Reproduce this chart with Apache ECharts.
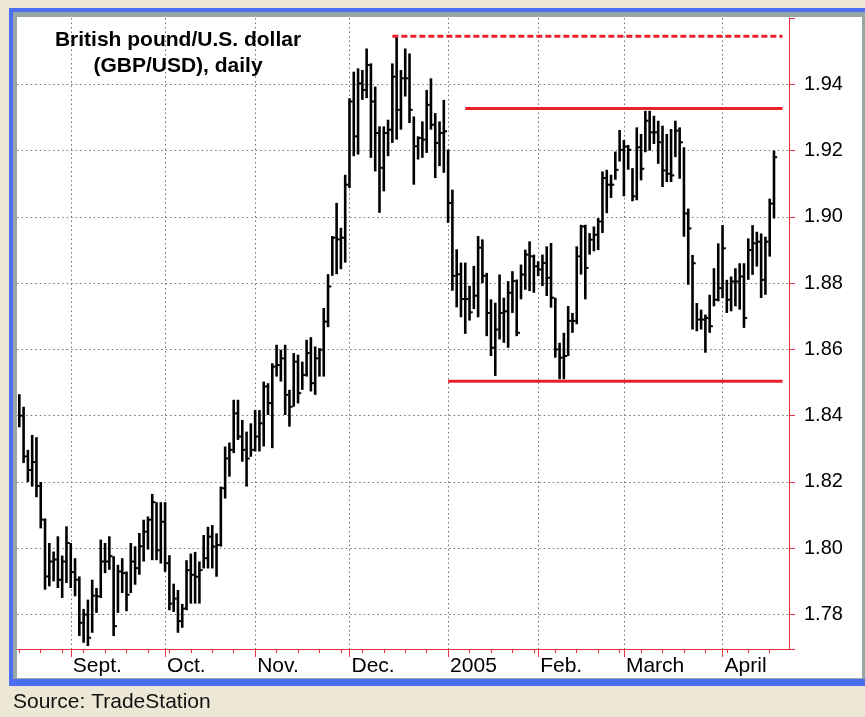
<!DOCTYPE html>
<html>
<head>
<meta charset="UTF-8">
<title>British pound/U.S. dollar (GBP/USD), daily</title>
<style>
html,body{margin:0;padding:0;width:100%;height:100%;background:#ece8d5;}
#main{width:865px;height:717px;}
</style>
</head>
<body>
<div id="main"></div>
<script src="https://cdn.jsdelivr.net/npm/echarts@6/dist/echarts.min.js"></script>
<script>
// trading days shown on the axis (weekdays from Aug 16, 2004)
var firstDay = [2004, 7, 16];
var dayCount = 180;

var highs = [
  1.8465, 1.8427, 1.8297, 1.8342, 1.8335, 1.8200, 1.8090, 1.8016, 1.7990, 1.8036,
  1.7978, 1.8066, 1.8016, 1.7970, 1.7915, 1.7817, 1.7845, 1.7905, 1.7880, 1.8026,
  1.8016, 1.8036, 1.7976, 1.7950, 1.7970, 1.7930, 1.8016, 1.8006, 1.8046, 1.8086,
  1.8096, 1.8164, 1.8139, 1.8139, 1.8139, 1.7979, 1.7893, 1.7874, 1.7832, 1.7964,
  1.7984, 1.7989, 1.7960, 1.8040, 1.8065, 1.8070, 1.8045, 1.8186, 1.8307, 1.8319,
  1.8448, 1.8448, 1.8387, 1.8352, 1.8377, 1.8417, 1.8417, 1.8503, 1.8498, 1.8558,
  1.8614, 1.8599, 1.8614, 1.8478, 1.8589, 1.8584, 1.8563, 1.8629, 1.8637, 1.8609,
  1.8604, 1.8725, 1.8827, 1.8942, 1.9042, 1.8967, 1.9127, 1.9358, 1.9438, 1.9448,
  1.9443, 1.9508, 1.9463, 1.9393, 1.9273, 1.9273, 1.9293, 1.9463, 1.9543, 1.9443,
  1.9508, 1.9493, 1.9303, 1.9243, 1.9288, 1.9383, 1.9418, 1.9313, 1.9288, 1.9353,
  1.9203, 1.9082, 1.8902, 1.8862, 1.8862, 1.8792, 1.8852, 1.8942, 1.8932, 1.8831,
  1.8751, 1.8741, 1.8826, 1.8756, 1.8806, 1.8836, 1.8811, 1.8856, 1.8901, 1.8926,
  1.8886, 1.8866, 1.8886, 1.8911, 1.8921, 1.8756, 1.8620, 1.8650, 1.8731, 1.8710,
  1.8911, 1.8976, 1.8976, 1.8951, 1.8971, 1.8996, 1.9137, 1.9142, 1.9127, 1.9197,
  1.9262, 1.9232, 1.9217, 1.9147, 1.9270, 1.9250, 1.9320, 1.9320, 1.9305, 1.9290,
  1.9275, 1.9250, 1.9265, 1.9290, 1.9270, 1.9210, 1.9025, 1.8885, 1.8740, 1.8720,
  1.8705, 1.8765, 1.8845, 1.8920, 1.8975, 1.8810, 1.8820, 1.8845, 1.8860, 1.8860,
  1.8935, 1.8975, 1.8955, 1.8950, 1.8940, 1.9055, 1.9200
];
var lows = [
  1.8365, 1.8257, 1.8200, 1.8186, 1.8154, 1.8060, 1.7875, 1.7885, 1.7900, 1.7880,
  1.7850, 1.7895, 1.7880, 1.7855, 1.7735, 1.7715, 1.7705, 1.7745, 1.7805, 1.7850,
  1.7925, 1.7935, 1.7735, 1.7805, 1.7865, 1.7810, 1.7865, 1.7890, 1.7920, 1.7960,
  1.7996, 1.7964, 1.7964, 1.7954, 1.7929, 1.7813, 1.7808, 1.7745, 1.7760, 1.7813,
  1.7833, 1.7833, 1.7833, 1.7939, 1.7939, 1.7939, 1.7914, 1.8005, 1.8150, 1.8216,
  1.8287, 1.8327, 1.8261, 1.8186, 1.8276, 1.8292, 1.8292, 1.8307, 1.8402, 1.8302,
  1.8518, 1.8503, 1.8402, 1.8367, 1.8427, 1.8437, 1.8478, 1.8518, 1.8473, 1.8463,
  1.8518, 1.8518, 1.8667, 1.8822, 1.8827, 1.8842, 1.8862, 1.9087, 1.9183, 1.9188,
  1.9353, 1.9358, 1.9178, 1.9137, 1.9012, 1.9077, 1.9183, 1.9223, 1.9233, 1.9263,
  1.9363, 1.9283, 1.9097, 1.9173, 1.9178, 1.9193, 1.9263, 1.9117, 1.9153, 1.9133,
  1.8982, 1.8777, 1.8727, 1.8697, 1.8647, 1.8687, 1.8722, 1.8697, 1.8800, 1.8640,
  1.8580, 1.8520, 1.8630, 1.8620, 1.8605, 1.8710, 1.8640, 1.8751, 1.8780, 1.8776,
  1.8771, 1.8821, 1.8791, 1.8761, 1.8726, 1.8575, 1.8510, 1.8510, 1.8580, 1.8650,
  1.8676, 1.8826, 1.8751, 1.8886, 1.8896, 1.8900, 1.8951, 1.9011, 1.9057, 1.9112,
  1.9167, 1.9062, 1.9142, 1.9047, 1.9050, 1.9110, 1.9195, 1.9200, 1.9220, 1.9160,
  1.9090, 1.9105, 1.9105, 1.9180, 1.9115, 1.8940, 1.8795, 1.8660, 1.8655, 1.8660,
  1.8590, 1.8650, 1.8730, 1.8745, 1.8755, 1.8710, 1.8715, 1.8730, 1.8720, 1.8665,
  1.8810, 1.8825, 1.8850, 1.8755, 1.8765, 1.8880, 1.8995
];
var closes = [
  1.8400, 1.8277, 1.8236, 1.8260, 1.8188, 1.8086, 1.7915, 1.7960, 1.7966, 1.7905,
  1.7960, 1.8016, 1.7928, 1.7905, 1.7775, 1.7800, 1.7730, 1.7857, 1.7855, 1.7960,
  1.7960, 1.7976, 1.7765, 1.7930, 1.7925, 1.7860, 1.7960, 1.7940, 1.8006, 1.8050,
  1.8086, 1.8139, 1.7994, 1.8080, 1.7955, 1.7833, 1.7848, 1.7780, 1.7818, 1.7934,
  1.7920, 1.7914, 1.7934, 1.7970, 1.8035, 1.8005, 1.8010, 1.8181, 1.8271, 1.8297,
  1.8407, 1.8337, 1.8297, 1.8271, 1.8297, 1.8337, 1.8377, 1.8488, 1.8438, 1.8548,
  1.8553, 1.8573, 1.8463, 1.8427, 1.8563, 1.8468, 1.8523, 1.8589, 1.8498, 1.8573,
  1.8599, 1.8684, 1.8790, 1.8937, 1.8932, 1.8937, 1.9097, 1.9348, 1.9243, 1.9403,
  1.9383, 1.9458, 1.9348, 1.9253, 1.9148, 1.9253, 1.9263, 1.9423, 1.9323, 1.9418,
  1.9418, 1.9323, 1.9213, 1.9238, 1.9233, 1.9338, 1.9278, 1.9223, 1.9253, 1.9258,
  1.9042, 1.8822, 1.8827, 1.8752, 1.8752, 1.8712, 1.8762, 1.8907, 1.8822, 1.8710,
  1.8605, 1.8660, 1.8710, 1.8715, 1.8771, 1.8806, 1.8650, 1.8826, 1.8886, 1.8881,
  1.8851, 1.8841, 1.8861, 1.8816, 1.8756, 1.8600, 1.8575, 1.8580, 1.8686, 1.8686,
  1.8881, 1.8971, 1.8846, 1.8931, 1.8946, 1.8986, 1.9117, 1.9097, 1.9097, 1.9142,
  1.9202, 1.9212, 1.9202, 1.9062, 1.9210, 1.9145, 1.9290, 1.9255, 1.9255, 1.9225,
  1.9140, 1.9130, 1.9125, 1.9260, 1.9225, 1.9010, 1.8965, 1.8860, 1.8690, 1.8690,
  1.8695, 1.8670, 1.8750, 1.8785, 1.8905, 1.8750, 1.8805, 1.8805, 1.8820, 1.8695,
  1.8900, 1.8920, 1.8925, 1.8810, 1.8925, 1.9040, 1.9180
];

var monthKeys = ['2004-09', '2004-10', '2004-11', '2004-12', '2005-01', '2005-02', '2005-03', '2005-04'];
var monthLabels = ['Sept.', 'Oct.', 'Nov.', 'Dec.', '2005', 'Feb.', 'March', 'April'];

// red trend lines drawn on the chart
var levelValues = [1.9545, 1.9327, 1.8504];
var levelStarts = ['2004-12-15', '2005-01-07', '2005-01-03'];
var levelEnds = ['2005-04-21', '2005-04-21', '2005-04-21'];
var levelDashed = [true, false, false];

var RED = '#e8303a';
var FONT = '"Liberation Sans", Arial, sans-serif';

var dates = [];
var d = new Date(Date.UTC(firstDay[0], firstDay[1], firstDay[2]));
while (dates.length < dayCount) {
  var wd = d.getUTCDay();
  if (wd !== 0 && wd !== 6) dates.push(d.toISOString().slice(0, 10));
  d.setUTCDate(d.getUTCDate() + 1);
}

function isMonthStart(i) {
  return i > 0 && dates[i].slice(0, 7) !== dates[i - 1].slice(0, 7);
}

var barData = highs.map(function (h, i) {
  return [i, h, lows[i], closes[i]];
});

function renderBar(params, api) {
  var top = api.coord([api.value(0), api.value(1)]);
  var bot = api.coord([api.value(0), api.value(2)]);
  var cls = api.coord([api.value(0), api.value(3)]);
  return {
    type: 'group',
    children: [
      {type: 'line', shape: {x1: top[0], y1: top[1], x2: bot[0], y2: bot[1]},
       style: {stroke: '#000', lineWidth: 2.6}},
      {type: 'line', shape: {x1: cls[0], y1: cls[1], x2: cls[0] + 3.2, y2: cls[1]},
       style: {stroke: '#000', lineWidth: 2}}
    ]
  };
}

var series = [{
  type: 'custom',
  renderItem: renderBar,
  data: barData,
  encode: {x: 0, y: [1, 2, 3]},
  z: 2
}];

levelValues.forEach(function (v, k) {
  series.push({
    type: 'line',
    data: [[levelStarts[k], v], [levelEnds[k], v]],
    symbol: 'none',
    silent: true,
    z: 3,
    lineStyle: {color: '#e8202a', width: 3, type: levelDashed[k] ? [6, 3] : 'solid'}
  });
});

var myChart = echarts.init(document.getElementById('main'));
myChart.setOption({
  animation: false,
  backgroundColor: '#ece8d5',
  textStyle: {fontFamily: FONT},
  graphic: [
    {type: 'rect', z: -20, silent: true, shape: {x: 9, y: 8, width: 870, height: 678}, style: {fill: '#4b6ef2'}},
    {type: 'rect', z: -19, silent: true, shape: {x: 13, y: 12, width: 852, height: 667}, style: {fill: '#97a6a6'}},
    {type: 'rect', z: -18, silent: true, shape: {x: 17, y: 17, width: 845, height: 661}, style: {fill: '#ffffff'}},
    {type: 'text', z: 10, x: 178, y: 40, style: {text: 'British pound/U.S. dollar', fontSize: 21, fontWeight: 'bold',
      fontFamily: FONT, fill: '#000', align: 'center', verticalAlign: 'middle'}},
    {type: 'text', z: 10, x: 178, y: 66, style: {text: '(GBP/USD), daily', fontSize: 21, fontWeight: 'bold',
      fontFamily: FONT, fill: '#000', align: 'center', verticalAlign: 'middle'}},
    {type: 'text', z: 10, x: 13, y: 702, style: {text: 'Source: TradeStation', fontSize: 21,
      fontFamily: FONT, fill: '#111', align: 'left', verticalAlign: 'middle'}}
  ],
  grid: {left: 17.16, right: 76, top: 18, bottom: 68, containLabel: false, outerBoundsMode: 'none'},
  xAxis: [{
    type: 'category',
    data: dates,
    boundaryGap: true,
    position: 'bottom',
    axisLine: {show: true, onZero: false, lineStyle: {color: RED, width: 1}},
    axisTick: {show: true, alignWithLabel: true, length: 4, lineStyle: {color: RED, width: 1},
      interval: function (i) { return i % 5 === 0; }},
    axisLabel: {show: false},
    splitLine: {show: false}
  }, {
    type: 'category',
    data: dates,
    boundaryGap: true,
    position: 'bottom',
    axisLine: {show: false, onZero: false},
    axisTick: {show: true, alignWithLabel: true, length: 8, lineStyle: {color: RED, width: 1}, interval: isMonthStart},
    axisLabel: {
      interval: isMonthStart,
      align: 'left',
      margin: 7,
      padding: [0, 0, 0, 2],
      fontSize: 21,
      color: '#000',
      formatter: function (v) {
        var k = monthKeys.indexOf(v.slice(0, 7));
        return k < 0 ? '' : monthLabels[k];
      }
    },
    splitLine: {show: true, alignWithLabel: true, interval: isMonthStart,
      lineStyle: {color: '#707070', width: 1, type: [1.5, 3]}}
  }],
  yAxis: {
    type: 'value',
    position: 'right',
    min: 1.7696,
    max: 1.96,
    splitNumber: 10,
    minInterval: 0.02,
    maxInterval: 0.02,
    axisLine: {show: true, lineStyle: {color: RED, width: 1}},
    axisTick: {show: true, length: 6, lineStyle: {color: RED}},
    axisLabel: {
      margin: 15,
      fontSize: 20,
      color: '#000',
      formatter: function (v) {
        var k = Math.round(v * 50);
        if (Math.abs(v * 50 - k) > 1e-6 || v > 1.95) return '';
        return v.toFixed(2);
      }
    },
    splitLine: {show: true, showMinLine: false, showMaxLine: false,
      lineStyle: {color: '#707070', width: 1, type: [1.5, 3]}}
  },
  series: series
});
</script>
</body>
</html>
